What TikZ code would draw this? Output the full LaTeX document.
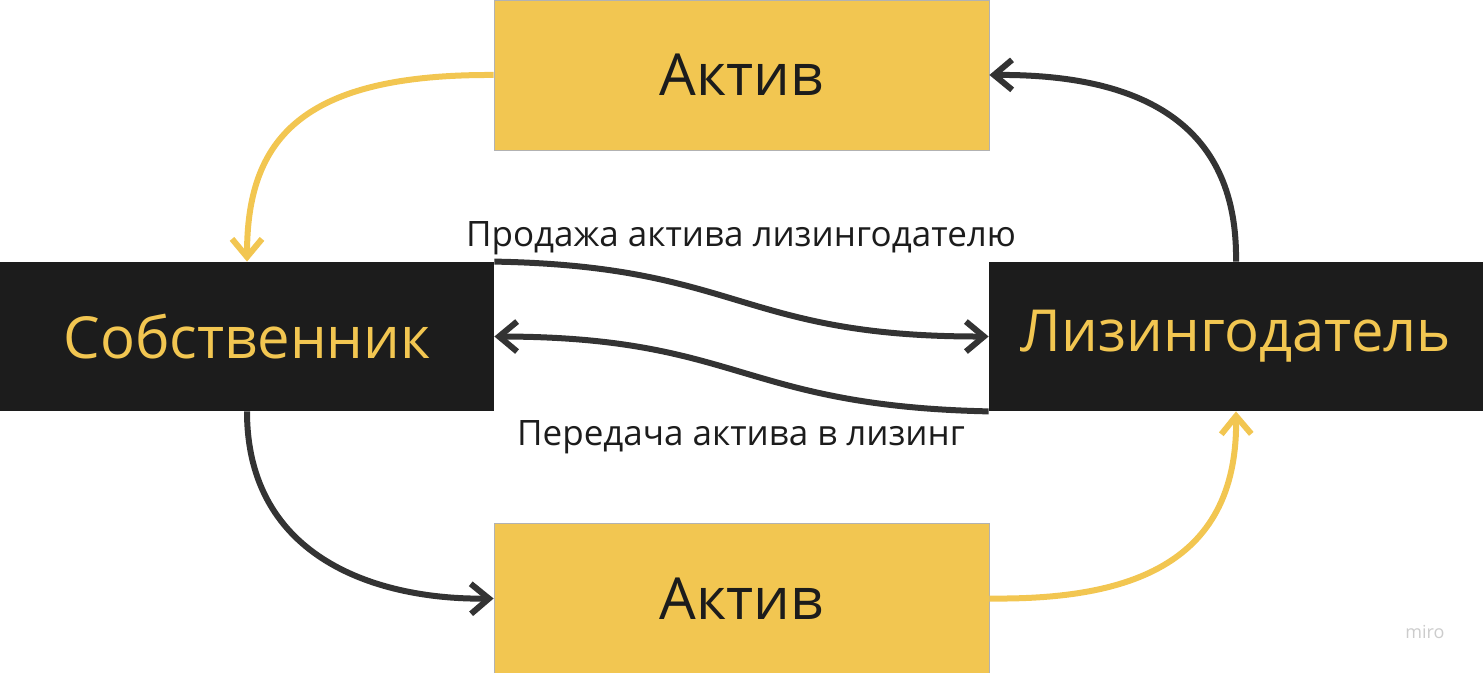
\documentclass[tikz,border=0pt]{standalone}
\usepackage{fontspec}
\setmainfont{Open Sans}
\definecolor{boxyellow}{RGB}{242, 198, 81}
\definecolor{boxblack}{RGB}{28, 28, 28}
\definecolor{arrowgray}{RGB}{51, 51, 51}
\usetikzlibrary{
  arrows.meta,
  positioning,
}
\tikzset{
  >={Straight Barb[length=9pt,width=15pt,line width=3pt]},
  line cap=round,
}

\begin{document}
\begin{tikzpicture}[x=0.5pt,y=-0.5pt]
        \useasboundingbox (0,0) rectangle (1483,673);

        \node[fill=boxyellow,draw=gray!60,line width=0.4pt,minimum width=247.5pt,minimum height=75pt,inner sep=0pt,font=\fontsize{29}{32}\selectfont,text=boxblack]    (top)    at (741.5,75)     {Актив};
        \node[fill=boxyellow,draw=gray!60,line width=0.4pt,minimum width=247.5pt,minimum height=75pt,inner sep=0pt,font=\fontsize{29}{32}\selectfont,text=boxblack]    (bottom) at (741.5,598.5)  {Актив};
        \node[fill=boxblack,minimum width=247pt,minimum height=74.5pt,inner sep=0pt,font=\fontsize{29}{32}\selectfont,text=boxyellow]    (owner)  at (247,336.5)    {Собственник};
        \node[fill=boxblack,minimum width=247pt,minimum height=74.5pt,inner sep=0pt,font=\fontsize{29}{32}\selectfont,text=boxyellow]    (lessor) at (1236,336.5)   {Лизингодатель};

        \draw[->,boxyellow,line width=3pt] (top.west) .. controls (300,74) and (247,140) .. (owner.north);
        \draw[->,arrowgray,line width=3pt] (lessor.north) .. controls (1238,130) and (1150,74) .. (top.east);
        \draw[->,arrowgray,line width=3pt] (owner.south) .. controls (247,560) and (380,600) .. (bottom.west);
        \draw[->,boxyellow,line width=3pt] (bottom.east) .. controls (1120,600) and (1238,570) .. (lessor.south);

        \draw[->,arrowgray,line width=3pt] (owner.north east) .. controls (740,266) and (740,337) .. (lessor.west);
        \draw[->,arrowgray,line width=3pt] (lessor.south west) .. controls (740,406) and (740,337) .. (owner.east);

        \node[font=\fontsize{17.5}{20}\selectfont,text=boxblack] (sale)  at (741,238) {Продажа актива лизингодателю};
        \node[font=\fontsize{17.5}{20}\selectfont,text=boxblack] (lease) at (741,437) {Передача актива в лизинг};
        \node[font=\fontsize{9}{11}\selectfont,text=gray!40] (miro) at (1425,632) {miro};
\end{tikzpicture}
\end{document}
